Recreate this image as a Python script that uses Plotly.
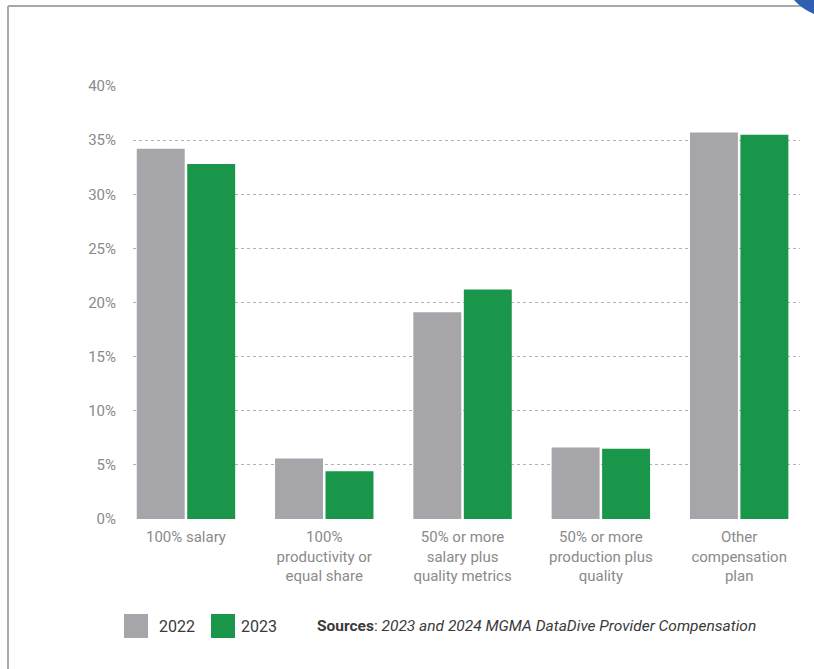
import plotly.graph_objects as go

categories = ["100% salary", "100%<br>productivity or<br>equal share",
              "50% or more<br>salary plus<br>quality metrics",
              "50% or more<br>production plus<br>quality",
              "Other<br>compensation<br>plan"]
values_2022 = [34.2, 5.6, 19.1, 6.6, 35.7]
values_2023 = [32.8, 4.4, 21.2, 6.5, 35.5]
series_names = ["2022", "2023"]
colors = ["#a6a6aa", "#19964a"]
y_ticks = [0, 5, 10, 15, 20, 25, 30, 35, 40]
y_tick_text = [f"{v}%" for v in y_ticks]

FONT = "Roboto, sans-serif"
W, H = 814, 669

fig = go.Figure()
for name, vals, col in zip(series_names, [values_2022, values_2023], colors):
    fig.add_trace(go.Bar(x=list(range(len(categories))), y=vals, name=name,
                         marker=dict(color=col, line=dict(width=0)),
                         showlegend=False))

fig.update_layout(
    width=W, height=H,
    margin=dict(l=133, r=14, t=86, b=150),
    paper_bgcolor="white", plot_bgcolor="white",
    barmode="group", bargap=0.27, bargroupgap=0.05,
    font=dict(family=FONT, color="#8a8a8a", size=15),
    xaxis=dict(tickmode="array", tickvals=list(range(len(categories))),
               ticktext=categories, range=[-0.383, 4.44],
               showgrid=False, zeroline=False, showline=False, ticks="",
               ticklabelstandoff=7,
               tickfont=dict(size=15, color="#8a8a8a", family=FONT)),
    yaxis=dict(range=[0, 40], tickmode="array", tickvals=y_ticks, ticktext=y_tick_text,
               showgrid=True, gridcolor="#b0b0b0", griddash="dot", gridwidth=1,
               zeroline=False, showline=False, ticks="",
               ticklabelstandoff=16,
               tickfont=dict(size=15, color="#8a8a8a", family=FONT)),
)

def px_x(x):
    return (x - 133) / 667
def px_y(y):
    return (519 - y) / 433

# frame border
fig.add_shape(type="line", xref="paper", yref="paper",
              x0=px_x(8), x1=px_x(8), y0=px_y(700), y1=px_y(6),
              line=dict(color="#a8a8a8", width=2))
fig.add_shape(type="line", xref="paper", yref="paper",
              x0=px_x(8), x1=px_x(830), y0=px_y(6), y1=px_y(6),
              line=dict(color="#a8a8a8", width=2))

# legend keys
for x0, col in [(124, colors[0]), (211, colors[1])]:
    fig.add_shape(type="rect", xref="paper", yref="paper",
                  x0=px_x(x0), x1=px_x(x0 + 24), y0=px_y(638), y1=px_y(614),
                  fillcolor=col, line=dict(width=0))
for x0, txt in [(157, series_names[0]), (239, series_names[1])]:
    fig.add_annotation(xref="paper", yref="paper", x=px_x(x0), y=px_y(626),
                       xanchor="left", yanchor="middle", showarrow=False,
                       text=txt, font=dict(family=FONT, size=16, color="#3a3a3a"))
fig.add_annotation(xref="paper", yref="paper", x=px_x(315), y=px_y(626),
                   xanchor="left", yanchor="middle", showarrow=False,
                   text="<b>Sources</b>: <i>2023 and 2024 MGMA DataDive Provider Compensation</i>",
                   font=dict(family=FONT, size=15.5, color="#3a3a3a"))

# blue page corner
fig.add_shape(type="path", xref="paper", yref="paper",
              path=f"M {px_x(794)} {px_y(0)} Q {px_x(802)} {px_y(9)} {px_x(814)} {px_y(14)} L {px_x(814)} {px_y(0)} Z",
              fillcolor="#2f5fb0", line=dict(width=0))

fig.write_html("out.html")
